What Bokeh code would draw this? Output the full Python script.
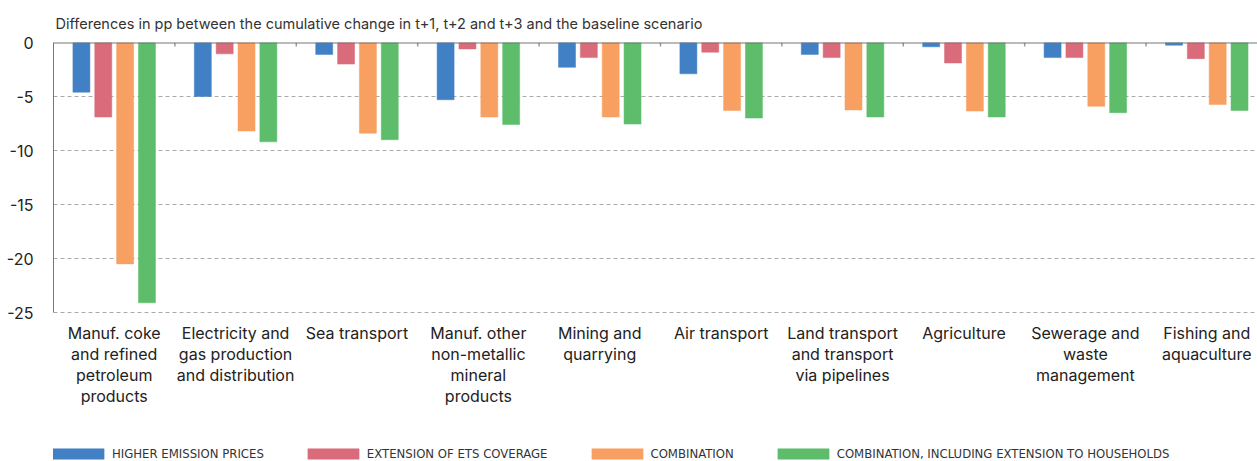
import numpy as np
from bokeh.plotting import figure
from bokeh.models import (ColumnDataSource, FixedTicker, Range1d, Span, Legend,
                          LegendItem, Title)
from bokeh.embed import file_html
from bokeh.resources import INLINE

categories = [
    "Manuf. coke\nand refined\npetroleum\nproducts",
    "Electricity and\ngas production\nand distribution",
    "Sea transport",
    "Manuf. other\nnon-metallic\nmineral\nproducts",
    "Mining and\nquarrying",
    "Air transport",
    "Land transport\nand transport\nvia pipelines",
    "Agriculture",
    "Sewerage and\nwaste\nmanagement",
    "Fishing and\naquaculture",
]
series_names = [
    "HIGHER EMISSION PRICES",
    "EXTENSION OF ETS COVERAGE",
    "COMBINATION",
    "COMBINATION, INCLUDING EXTENSION TO HOUSEHOLDS",
]
higher_prices = [-4.6, -5.0, -1.1, -5.3, -2.3, -2.9, -1.1, -0.4, -1.4, -0.25]
ets_extension = [-6.9, -1.05, -2.0, -0.6, -1.4, -0.9, -1.4, -1.9, -1.4, -1.5]
combination = [-20.5, -8.2, -8.4, -6.9, -6.9, -6.3, -6.25, -6.35, -5.9, -5.75]
combination_hh = [-24.1, -9.2, -9.0, -7.6, -7.55, -7.0, -6.9, -6.9, -6.5, -6.3]
y_ticks = [0, -5, -10, -15, -20, -25]

colors = ["#4180c4", "#d96b7a", "#f89f62", "#5ebd6b"]
offsets = [-0.27, -0.09, 0.09, 0.27]
bar_w = 0.14

FONT = "Inter"
y_min, y_max = min(y_ticks), max(y_ticks)
# extra room below the value axis for category labels and the legend (in axis units)
y_pad = 149 / 10.8

p = figure(width=1257, height=461, output_backend="svg", toolbar_location=None,
           x_range=Range1d(-0.5, 9.418), y_range=Range1d(y_min - y_pad, y_max),
           min_border_left=53, min_border_right=0, min_border_top=42,
           min_border_bottom=0, outline_line_color=None)

p.title = Title(text="Differences in pp between the cumulative change in t+1, t+2 and t+3 and the baseline scenario",
                text_font=FONT, text_font_size="14.5px", text_font_style="normal",
                text_color="#333333", align="left", offset=2, standoff=22)

idx = np.arange(len(categories))
renderers = []
for vals, col, off in zip([higher_prices, ets_extension, combination, combination_hh], colors, offsets):
    src = ColumnDataSource(dict(x=idx + off, top=vals))
    r = p.vbar(x="x", top="top", bottom=0, width=bar_w, source=src,
               fill_color=col, line_color=col, line_alpha=0.5, line_width=1)
    renderers.append(r)

# zero line and group boundary ticks
p.add_layout(Span(location=0, dimension="width", line_color="#777777", line_width=2))
bnd = ColumnDataSource(dict(x=idx + 0.5))
p.segment(x0="x", x1="x", y0=0, y1=-0.38, source=bnd, line_color="#999999", line_width=1.5)

# y axis
p.yaxis.ticker = FixedTicker(ticks=y_ticks)
p.yaxis.bounds = (y_min, y_max)
p.yaxis.major_label_overrides = {t: str(t) for t in y_ticks}
p.yaxis.axis_line_color = "#777777"
p.yaxis.major_tick_line_color = None
p.yaxis.minor_tick_line_color = None
p.yaxis.major_label_text_font = FONT
p.yaxis.major_label_text_font_size = "16px"
p.yaxis.major_label_text_color = "#222222"
p.yaxis.major_label_standoff = 14

# x axis (category labels under the -25 line)
p.xaxis.fixed_location = y_min
p.xaxis.ticker = FixedTicker(ticks=list(idx))
p.xaxis.major_label_overrides = {int(i): c for i, c in zip(idx, categories)}
p.xaxis.axis_line_color = None
p.xaxis.major_tick_line_color = None
p.xaxis.minor_tick_line_color = None
p.xaxis.major_label_text_font = FONT
p.xaxis.major_label_text_font_size = "16px"
p.xaxis.major_label_text_color = "#222222"
p.xaxis.major_label_text_line_height = 1.05
p.xaxis.major_label_standoff = 4

p.xgrid.grid_line_color = None
p.ygrid.ticker = FixedTicker(ticks=y_ticks)
p.ygrid.grid_line_color = "#aaaaaa"
p.ygrid.grid_line_dash = "4 3"
p.ygrid.grid_line_width = 1

items = [LegendItem(label=n, renderers=[r]) for n, r in zip(series_names, renderers)]
legend = Legend(items=items, orientation="horizontal", location=(-7, 0),
                glyph_width=64, glyph_height=13, label_standoff=2, spacing=37,
                padding=0, margin=0, border_line_color=None, background_fill_alpha=0,
                label_text_font="Liberation Sans Narrow, DejaVu Sans Condensed, Liberation Sans",
                label_text_font_size="13px", label_text_color="#333333",
                label_height=16)
p.add_layout(legend, "center")

open("out.html", "w").write(file_html(p, INLINE))
